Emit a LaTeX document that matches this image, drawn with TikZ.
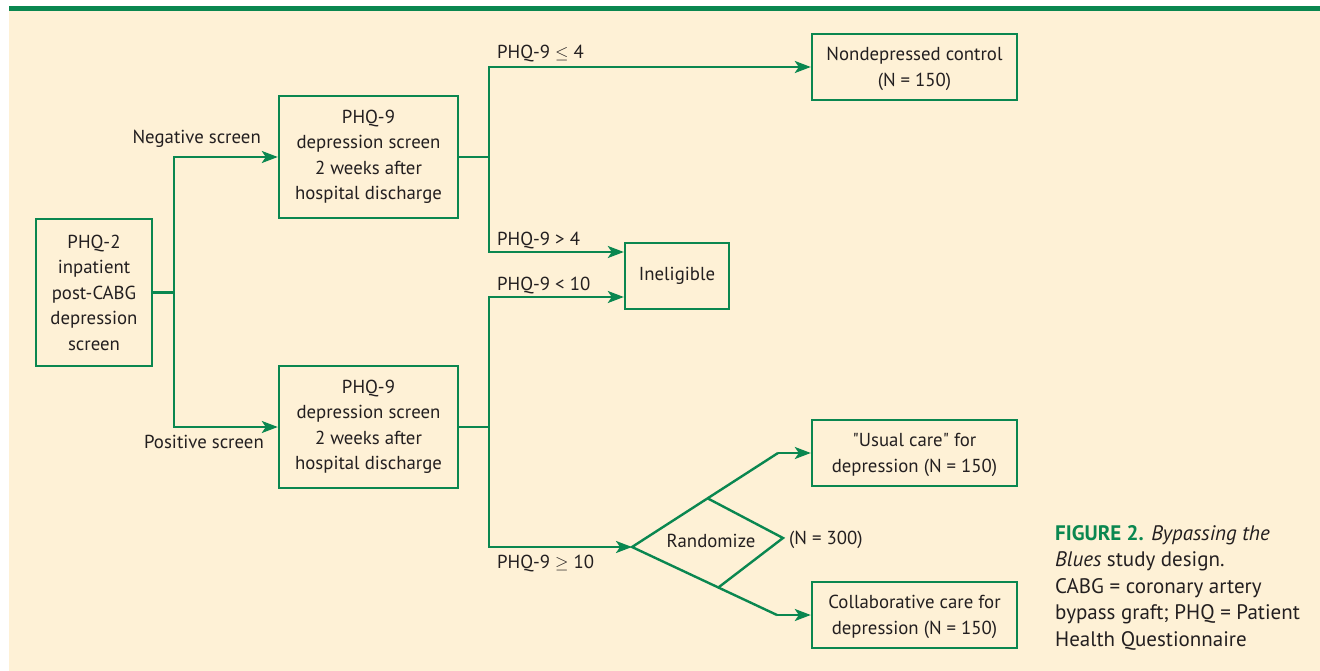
\documentclass[tikz,border=0pt]{standalone}
\usepackage{fontspec}
\setmainfont{PT Sans}
\newfontfamily\qfont{PT Sans}[Ligatures=TeXOff]
\usetikzlibrary{arrows.meta,calc}
\definecolor{cream}{HTML}{FEF1D6}
\definecolor{fgreen}{HTML}{0A8750}
\definecolor{ink}{HTML}{231F20}
\newcommand{\sq}{{\qfont"}}
\begin{document}
\begin{tikzpicture}[x=1pt,y=-1pt,
  every node/.style={text=ink,font=\fontsize{18.8}{25.5}\selectfont},
  box/.style={draw=fgreen,line width=2.4pt,align=center,inner sep=0pt,fill=cream},
  conn/.style={draw=fgreen,line width=2.4pt},
  arr/.style={conn,-{Stealth[length=16pt,width=12pt,inset=4pt]}},
  lbl/.style={inner sep=0pt}]
\useasboundingbox (0,0) rectangle (1320,671);
\fill[white] (0,0) rectangle (1320,671);
\fill[cream] (9,11) rectangle (1320,671);
\fill[fgreen] (9,6) rectangle (1320,11.5);

% boxes
\node[box,minimum width=116pt,minimum height=147pt] (phq2) at (94,292.5) {PHQ-2\\inpatient\\post-CABG\\depression\\screen};
\node[box,minimum width=179pt,minimum height=122pt] (top9) at (368.5,157) {PHQ-9\\depression screen\\2 weeks after\\hospital discharge};
\node[box,minimum width=179pt,minimum height=122pt] (bot9) at (368.5,427) {PHQ-9\\depression screen\\2 weeks after\\hospital discharge};
\node[box,minimum width=205pt,minimum height=66pt] (nondep) at (914.5,67) {\rule{0pt}{17pt}Nondepressed control\\(N = 150)};
\node[box,minimum width=104pt,minimum height=66pt] (inel) at (677,276) {Ineligible};
\node[box,minimum width=205pt,minimum height=66pt] (usual) at (914.5,453) {\rule{0pt}{17pt}\sq Usual care\sq{} for\\depression (N = 150)};
\node[box,minimum width=205pt,minimum height=66pt] (collab) at (914.5,615) {\rule{0pt}{17pt}Collaborative care for\\depression (N = 150)};

% junctions
\coordinate (j1) at (174,292.5);
\coordinate (j2) at (489,157);
\coordinate (j3) at (489,427);
\coordinate (inA) at ($(inel.west)+(0,-24)$);
\coordinate (inB) at ($(inel.west)+(0,21)$);

% diamond corners
\coordinate (dl) at (632,547);
\coordinate (dt) at (707,498);
\coordinate (dr) at (783,538);
\coordinate (db) at (719,587);
\coordinate (ut) at (778,453);
\coordinate (ub) at (777,615);

% connectors
\draw[conn] (phq2.east) -- (j1);
\draw[arr] (j1) |- (top9.west);
\draw[arr] (j1) |- (bot9.west);
\draw[conn] (top9.east) -- (j2);
\draw[arr] (j2) |- (nondep.west);
\draw[arr] (j2) |- (inA);
\draw[conn] (bot9.east) -- (j3);
\draw[arr] (j3) |- (inB);
\draw[arr] (j3) |- (dl);
\draw[conn,line join=miter] (ut) -- (dl) -- (ub);
\draw[conn,line join=miter] (dt) -- (dr) -- (db);
\draw[arr] (ut) -- (usual.west);
\draw[arr] (ub) -- (collab.west);

% labels
\node[lbl] (rand) at (711,541) {Randomize};
\node[lbl,anchor=west] (n300) at (789,540) {(N = 300)};
\node[lbl,anchor=east] (neg) at (261,139) {Negative screen};
\node[lbl,anchor=east] (pos) at (264,442) {Positive screen};
\node[lbl,anchor=west] (l1) at (497,54) {PHQ-9 $\leq$ 4};
\node[lbl,anchor=west] (l2) at (497,241) {PHQ-9 > 4};
\node[lbl,anchor=west] (l3) at (497,286) {PHQ-9 < 10};
\node[lbl,anchor=west] (l4) at (497,564) {PHQ-9 $\geq$ 10};

% caption
\node[lbl,anchor=north west,align=left,font=\fontsize{21}{26.5}\selectfont] (cap) at (1055,525)
 {{\color{fgreen}\bfseries FIGURE 2.} \textit{Bypassing the}\\\textit{Blues} study design.\\CABG = coronary artery\\bypass graft; PHQ = Patient\\Health Questionnaire};
\end{tikzpicture}
\end{document}
